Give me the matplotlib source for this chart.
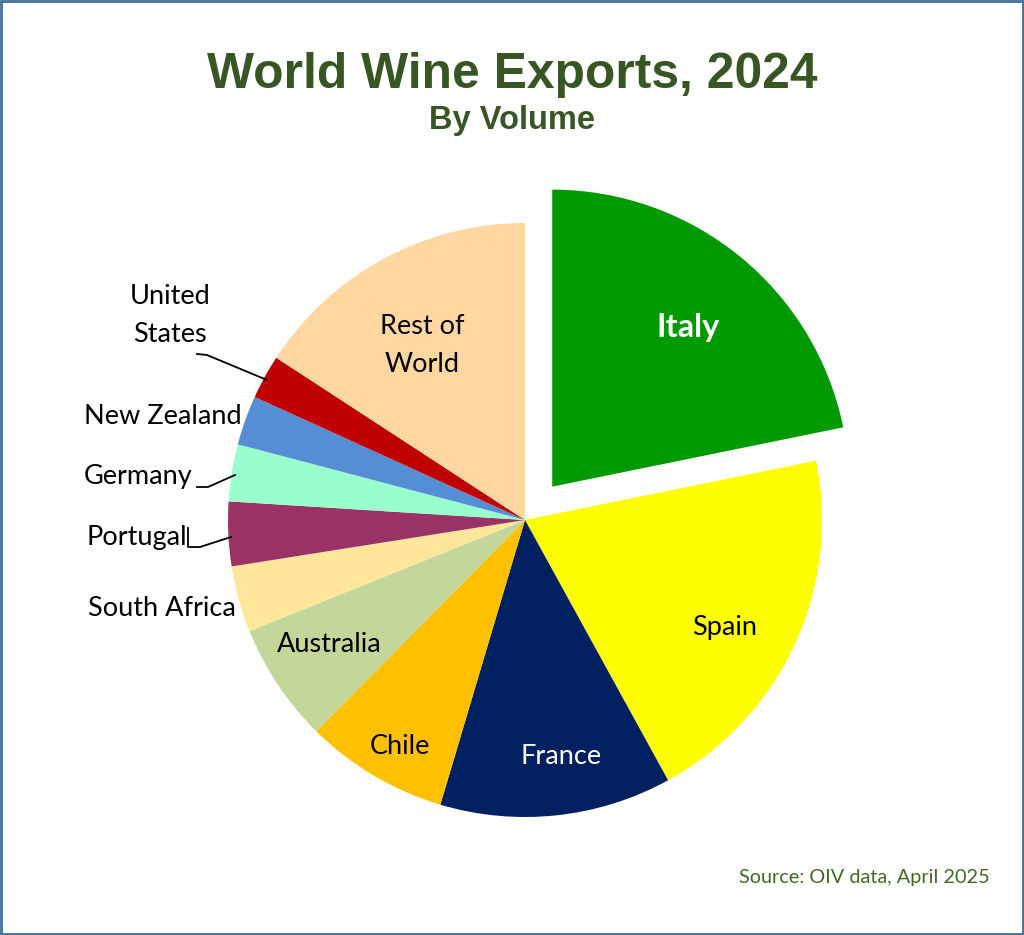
import matplotlib.pyplot as plt
import numpy as np
from matplotlib.patches import Rectangle

countries = ["Italy", "Spain", "France", "Chile", "Australia", "South Africa",
             "Portugal", "Germany", "New Zealand", "United States", "Rest of World"]
shares = [21.8, 20.2, 12.6, 7.8, 6.5, 3.6, 3.5, 3.1, 2.7, 2.4, 15.8]
colors = ["#009900", "#FFFF00", "#002060", "#FFC000", "#C4D79B", "#FFE699",
          "#993366", "#99FFCC", "#558ED5", "#C00000", "#FFD7A1"]
explode = [0.145] + [0] * 10

W, H = 1024, 935
fig = plt.figure(figsize=(W / 100, H / 100), dpi=100)
fig.patches.append(Rectangle((0.001, 0.001), 0.998, 0.998, transform=fig.transFigure,
                             fill=False, edgecolor="#41719C", linewidth=2))

# pie centre and radius in pixels
cx, cy, R = 525, 520, 297
box = 900
ax = fig.add_axes([(cx - box / 2) / W, (H - cy - box / 2) / H, box / W, box / H])
wedges, _ = ax.pie(shares, colors=colors, explode=explode, startangle=90,
                   counterclock=False, radius=1)
lim = box / 2 / R
ax.set_xlim(-lim, lim)
ax.set_ylim(-lim, lim)
ax.set_aspect("equal")
ax.axis("off")


def px(x, y):
    return ((x - cx) / R, (cy - y) / R)


lab_font = "Lato"
inside = {"Italy": (688, 328), "Spain": (725, 628), "France": (561, 757),
          "Chile": (400, 747), "Australia": (329, 644), "Rest of World": (422, 345)}
for name, (x, y) in inside.items():
    txt = "Rest of\nWorld" if name == "Rest of World" else name
    col = "white" if name in ("Italy", "France") else "black"
    weight = "bold" if name == "Italy" else "normal"
    size = 23.5 if name == "Italy" else 19.5
    ax.text(*px(x, y), txt, ha="center", va="center", color=col, fontsize=size,
            fontweight=weight, family=lab_font, linespacing=1.65)

outside = {"United States": (170, 315), "New Zealand": (163, 416), "Germany": (138, 476),
           "Portugal": (137, 538), "South Africa": (162, 609)}
for name, (x, y) in outside.items():
    txt = "United\nStates" if name == "United States" else name
    ax.text(*px(x, y), txt, ha="center", va="center", color="black", fontsize=19.5,
            family=lab_font, linespacing=1.65)

leaders = [[(197, 354), (207, 355), (267, 380)],
           [(197, 487), (208, 487), (235, 475)],
           [(188, 528), (188, 547), (200, 547), (231, 537)]]
for pts in leaders:
    xs, ys = zip(*[px(x, y) for x, y in pts])
    ax.plot(xs, ys, color="black", linewidth=1.3)

fig.text(0.5, 1 - 75 / H, "World Wine Exports, 2024", ha="center", va="center",
         fontsize=35.8, fontweight="bold", color="#375623", family="Liberation Sans")
fig.text(0.5, 1 - 121 / H, "By Volume", ha="center", va="center",
         fontsize=23.5, fontweight="bold", color="#375623", family="Liberation Sans")
fig.text(990 / W, 1 - 878 / H, "Source: OIV data, April 2025", ha="right", va="center",
         fontsize=14.3, color="#3F6B21", family=lab_font)

fig.savefig("out.png", dpi=100)
